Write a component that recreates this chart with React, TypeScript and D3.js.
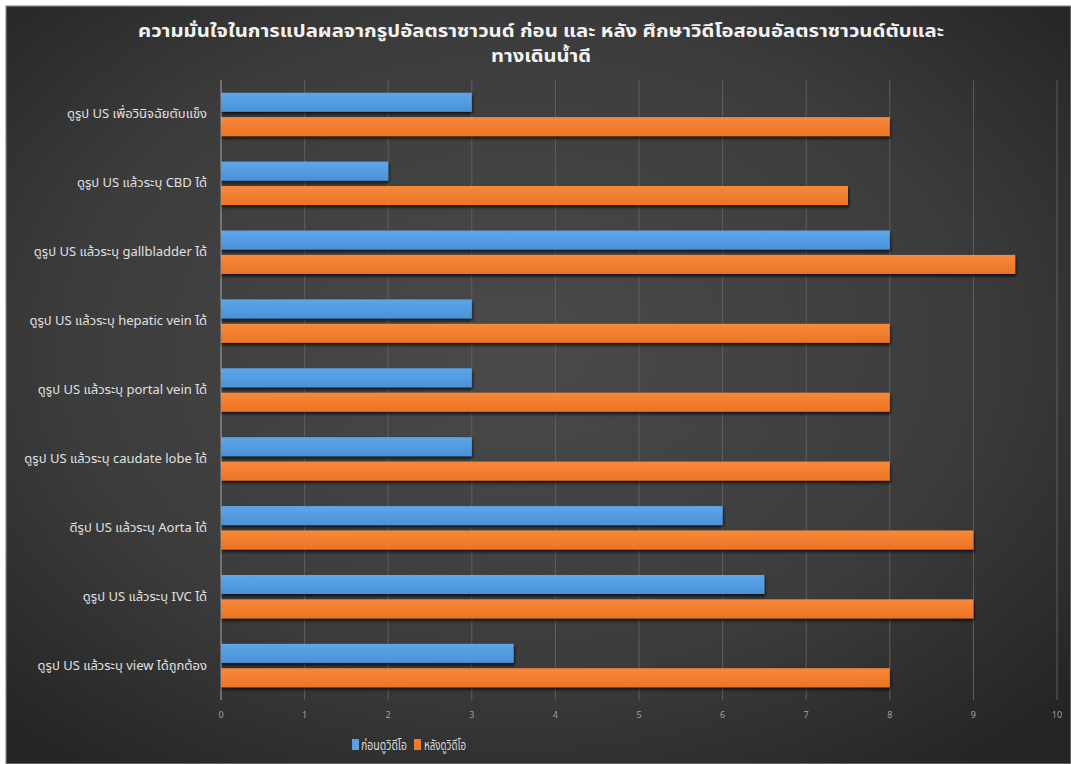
import React from "react";
import * as d3 from "d3";

const categories = [
  "ดูรูป US เพื่อวินิจฉัยตับแข็ง",
  "ดูรูป US แล้วระบุ CBD ได้",
  "ดูรูป US แล้วระบุ gallbladder ได้",
  "ดูรูป US แล้วระบุ hepatic vein ได้",
  "ดูรูป US แล้วระบุ portal vein ได้",
  "ดูรูป US แล้วระบุ caudate lobe ได้",
  "ดีรูป US แล้วระบุ Aorta ได้",
  "ดูรูป US แล้วระบุ IVC ได้",
  "ดูรูป US แล้วระบุ view ได้ถูกต้อง",
];
const beforeValues = [3, 2, 8, 3, 3, 3, 6, 6.5, 3.5];
const afterValues = [8, 7.5, 9.5, 8, 8, 8, 9, 9, 8];
const seriesNames = ["ก่อนดูวิดีโอ", "หลังดูวิดีโอ"];
const xTicks = [0, 1, 2, 3, 4, 5, 6, 7, 8, 9, 10];
const titleLines = [
  "ความมั่นใจในการแปลผลจากรูปอัลตราซาวนด์ ก่อน และ หลัง ศึกษาวิดีโอสอนอัลตราซาวนด์ตับและ",
  "ทางเดินน้ำดี",
];

const W = 1071;
const H = 764;
const FONT = "Tahoma, 'Noto Sans Thai', 'DejaVu Sans', 'Noto Sans', sans-serif";

export default function App() {
  const x = d3.scaleLinear().domain([0, 10]).range([221, 1057]);
  const y = d3
    .scaleBand<string>()
    .domain(categories)
    .range([80, 700])
    .paddingInner(0.37)
    .paddingOuter(0.185);
  const inner = d3
    .scaleBand<number>()
    .domain([0, 1])
    .range([0, y.bandwidth()])
    .paddingInner(0.22);
  const series = [beforeValues, afterValues];
  const fills = ["url(#gBlue)", "url(#gOrange)"];

  return (
    <svg
      width={W}
      height={H}
      style={{ position: "absolute", left: 0, top: 0, background: "#fff" }}
    >
      <defs>
        <radialGradient id="bg" cx="48%" cy="45%" r="70%">
          <stop offset="0%" stopColor="#4a4a4a" />
          <stop offset="60%" stopColor="#3c3c3c" />
          <stop offset="100%" stopColor="#242424" />
        </radialGradient>
        <linearGradient id="gBlue" x1="0" y1="0" x2="0" y2="1">
          <stop offset="0%" stopColor="#5ea6ea" />
          <stop offset="100%" stopColor="#4a92d8" />
        </linearGradient>
        <linearGradient id="gOrange" x1="0" y1="0" x2="0" y2="1">
          <stop offset="0%" stopColor="#f7893a" />
          <stop offset="100%" stopColor="#ec7424" />
        </linearGradient>
        <filter id="shadow" x="-5%" y="-30%" width="110%" height="180%">
          <feDropShadow dx="1" dy="2.5" stdDeviation="1.5" floodColor="#000" floodOpacity="0.7" />
        </filter>
      </defs>
      <rect x={6} y={6} width={W - 6} height={H - 6} fill="url(#bg)" stroke="#8a8a8a" strokeWidth={1.2} />

      <text
        x={541}
        y={37}
        textAnchor="middle"
        fill="#f2f2f2"
        fontFamily={FONT}
        fontWeight="bold"
        fontSize={17}
        textLength={806}
        lengthAdjust="spacingAndGlyphs"
      >
        {titleLines[0]}
      </text>
      <text
        x={541}
        y={62}
        textAnchor="middle"
        fill="#f2f2f2"
        fontFamily={FONT}
        fontWeight="bold"
        fontSize={17}
        textLength={100}
        lengthAdjust="spacingAndGlyphs"
      >
        {titleLines[1]}
      </text>

      {/* gridlines */}
      {xTicks.map((t) => (
        <line
          key={t}
          x1={x(t)}
          x2={x(t)}
          y1={80}
          y2={700}
          stroke={t === 0 ? "#a8a8a8" : "#5e5e5e"}
          strokeWidth={1}
        />
      ))}

      {/* bars */}
      {categories.map((c) => (
        <g key={c}>
          {series.map((vals, si) => {
            const v = vals[categories.indexOf(c)];
            return (
              <rect
                key={si}
                x={x(0)}
                y={(y(c) as number) + (inner(si) as number)}
                width={x(v) - x(0)}
                height={inner.bandwidth()}
                fill={fills[si]}
                filter="url(#shadow)"
              />
            );
          })}
          <text
            x={207}
            y={(y(c) as number) + y.bandwidth() / 2 + 4}
            textAnchor="end"
            fill="#e0e0e0"
            fontFamily={FONT}
            fontSize={13}
          >
            {c}
          </text>
        </g>
      ))}

      {/* x tick labels */}
      {xTicks.map((t) => (
        <text
          key={t}
          x={x(t)}
          y={718}
          textAnchor="middle"
          fill="#a0a0a0"
          fontFamily={FONT}
          fontSize={9}
        >
          {t}
        </text>
      ))}

      {/* legend */}
      <rect x={352} y={739} width={7} height={11} fill="#5a9fe4" />
      <text x={361} y={750} fill="#d8d8d8" fontFamily={FONT} fontSize={14} textLength={46} lengthAdjust="spacingAndGlyphs">
        {seriesNames[0]}
      </text>
      <rect x={414} y={739} width={7} height={11} fill="#f07a2a" />
      <text x={424} y={750} fill="#d8d8d8" fontFamily={FONT} fontSize={14} textLength={42} lengthAdjust="spacingAndGlyphs">
        {seriesNames[1]}
      </text>
    </svg>
  );
}
